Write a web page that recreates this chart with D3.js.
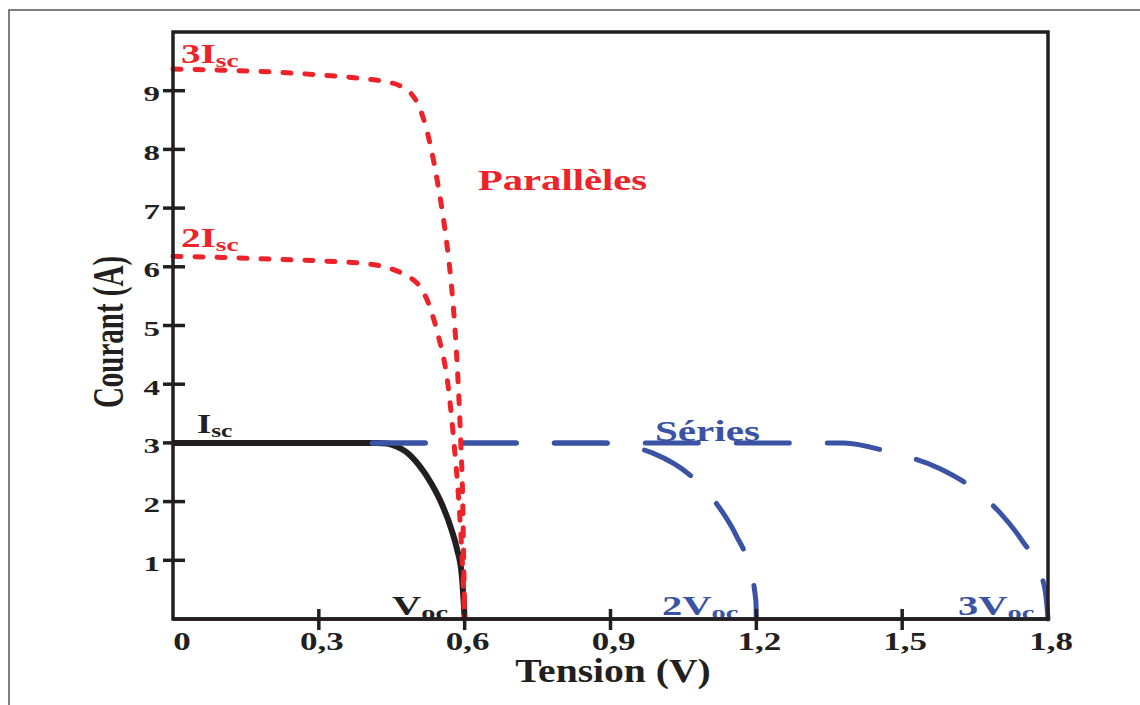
<!DOCTYPE html>
<html>
<head>
<meta charset="utf-8">
<script src="https://cdn.jsdelivr.net/npm/d3@7"></script>
<style>
  body { margin: 0; background: #fff; }
  text { font-family: "Liberation Serif", "Times New Roman", serif; font-weight: bold; }
</style>
</head>
<body>
<div id="container"></div>
<script>
// axis ticks
const xTicks = [0, 0.3, 0.6, 0.9, 1.2, 1.5, 1.8];
const yTicks = [1, 2, 3, 4, 5, 6, 7, 8, 9];

// curves as [tension V, courant A]
const oneCell = [[0, 3], [0.3, 3], [0.42, 3], [0.44, 2.99], [0.46, 2.94], [0.479, 2.85], [0.506, 2.62],
  [0.532, 2.3], [0.553, 1.96], [0.573, 1.52], [0.584, 1.2], [0.594, 0.75], [0.6, 0]];
const parallel2 = [[0, 6.18], [0.1, 6.16], [0.2, 6.13], [0.33, 6.09], [0.41, 6.04], [0.44, 5.99], [0.475, 5.87],
  [0.507, 5.67], [0.524, 5.41], [0.534, 5.17], [0.545, 4.85], [0.567, 3.9], [0.578, 3.0], [0.588, 2.0],
  [0.595, 1.0], [0.6, 0]];
const parallel3 = [[0, 9.37], [0.1, 9.35], [0.2, 9.32], [0.3, 9.27], [0.397, 9.2], [0.44, 9.15], [0.47, 9.07],
  [0.49, 8.95], [0.505, 8.75], [0.518, 8.45], [0.53, 8.05], [0.545, 7.4], [0.56, 6.6], [0.572, 5.75],
  [0.58, 4.95], [0.587, 3.95], [0.592, 3.0], [0.596, 2.0], [0.598, 1.0], [0.6, 0]];
const series2 = [[0.41, 3], [0.7, 3], [0.88, 3], [0.92, 2.97], [0.986, 2.83], [1.072, 2.39], [1.115, 2.0],
  [1.16, 1.4], [1.183, 0.96], [1.199, 0.31], [1.2, 0]];
const series3 = [[0.41, 3], [1.0, 3], [1.38, 3], [1.471, 2.85], [1.578, 2.56], [1.635, 2.29], [1.7, 1.82],
  [1.747, 1.33], [1.786, 0.75], [1.797, 0.3], [1.8, 0]];

const w = 1140;
const h = 705;
const red = "#ee2229";
const blue = "#3a53a4";
const black = "#231f20";

const svg = d3
  .select("#container")
  .append("svg")
  .attr("width", w)
  .attr("height", h)
  .attr("viewBox", `0 0 ${w} ${h}`);

// outer thin frame
svg
  .append("rect")
  .attr("x", 9)
  .attr("y", 10)
  .attr("width", w)
  .attr("height", h)
  .attr("fill", "none")
  .attr("stroke", "#555")
  .attr("stroke-width", 1.5);

const x = d3.scaleLinear().domain([0, 1.8]).range([173, 1048]);
const y = d3.scaleLinear().domain([0, 10]).range([619, 32]);

const line = d3
  .line()
  .x((d) => x(d[0]))
  .y((d) => y(d[1]))
  .curve(d3.curveMonotoneX);

svg
  .append("path")
  .attr("d", line(oneCell))
  .attr("fill", "none")
  .attr("stroke", black)
  .attr("stroke-width", 6);

[series2, series3].forEach((s) => {
  svg
    .append("path")
    .attr("d", line(s))
    .attr("fill", "none")
    .attr("stroke", blue)
    .attr("stroke-width", 5)
    .attr("stroke-linecap", "round")
    .attr("stroke-dasharray", "53,38");
});

[parallel2, parallel3].forEach((s) => {
  svg
    .append("path")
    .attr("d", line(s))
    .attr("fill", "none")
    .attr("stroke", red)
    .attr("stroke-width", 5)
    .attr("stroke-linecap", "round")
    .attr("stroke-dasharray", "8,14");
});

// text helper: main text plus optional subscript
function label(px, py, main, sub, color, size, stretch, anchor) {
  const g = svg
    .append("g")
    .attr("transform", `translate(${px}, ${py}) scale(${stretch}, 1)`);
  const t = g
    .append("text")
    .attr("fill", color)
    .attr("font-size", size)
    .attr("text-anchor", anchor || "start");
  t.append("tspan").text(main);
  if (sub) t.append("tspan").attr("font-size", size * 0.7).attr("dy", 4).text(sub);
  return t;
}

label(181, 63, "3I", "sc", red, 27, 1.45);
label(181, 247, "2I", "sc", red, 27, 1.45);
label(197, 433, "I", "sc", black, 27, 1.35);
label(478, 190, "Parallèles", null, red, 29, 1.4);
label(655, 441, "Séries", null, blue, 30, 1.37);

// frame
svg
  .append("rect")
  .attr("x", x(0))
  .attr("y", y(10))
  .attr("width", x(1.8) - x(0))
  .attr("height", y(0) - y(10))
  .attr("fill", "none")
  .attr("stroke", black)
  .attr("stroke-width", 3.5);

label(392, 615, "V", "oc", black, 27, 1.5);
label(662, 615, "2V", "oc", blue, 27, 1.5);
label(958, 615, "3V", "oc", blue, 27, 1.5);

// axis line redrawn over the subscripts
svg
  .append("line")
  .attr("x1", x(0))
  .attr("x2", x(1.8))
  .attr("y1", y(0))
  .attr("y2", y(0))
  .attr("stroke", black)
  .attr("stroke-width", 3.5);

// ticks
svg
  .selectAll(".xtick")
  .data(xTicks.filter((d) => d > 0 && d < 1.8))
  .enter()
  .append("line")
  .attr("x1", (d) => x(d))
  .attr("x2", (d) => x(d))
  .attr("y1", y(0) - 10)
  .attr("y2", y(0) + 11)
  .attr("stroke", black)
  .attr("stroke-width", 3.5);

svg
  .selectAll(".ytick")
  .data(yTicks)
  .enter()
  .append("line")
  .attr("x1", x(0) - 10)
  .attr("x2", x(0) + 12)
  .attr("y1", (d) => y(d))
  .attr("y2", (d) => y(d))
  .attr("stroke", black)
  .attr("stroke-width", 3.5);

const fmt = (d) => String(d).replace(".", ",");

xTicks.forEach((d) => {
  label(d === 0 ? x(d) + 9 : x(d) + 3, 650, fmt(d), null, black, 25, 1.4, "middle");
});
yTicks.forEach((d) => {
  label(160, y(d) + 10.5, fmt(d), null, black, 22, 1.5, "end");
});

label(613, 682, "Tension (V)", null, black, 33, 1.2, "middle");

svg
  .append("text")
  .attr("transform", "translate(123, 332) scale(1.5, 1) rotate(-90)")
  .attr("text-anchor", "middle")
  .attr("font-size", 29)
  .attr("fill", black)
  .text("Courant (A)");
</script>
</body>
</html>
